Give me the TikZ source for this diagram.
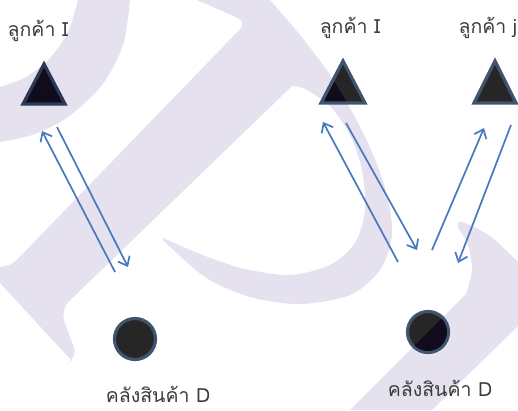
\documentclass[tikz,border=0pt]{standalone}
\usepackage{fontspec}
\newfontfamily\thaifont[Script=Thai]{Loma}
\usetikzlibrary{arrows.meta}
\definecolor{wm}{RGB}{230,225,239}
\definecolor{arrowblue}{RGB}{72,120,190}
\definecolor{shapeedge}{RGB}{64,84,112}
\definecolor{shapeedgedark}{RGB}{44,58,88}
\definecolor{shapefill}{RGB}{38,38,38}
\definecolor{deepfill}{RGB}{17,12,28}
\definecolor{labelgray}{RGB}{60,60,60}
\begin{document}
\begin{tikzpicture}[x=1pt,y=-1pt,
  lbl/.style={font=\thaifont\fontsize{19.5}{23}\selectfont, text=labelgray, inner sep=0pt, anchor=base},
  custedge/.style={draw=shapeedge, line width=3.2pt, line join=miter},
  depot/.style={circle, draw=shapeedge, fill=shapefill, line width=3.2pt, minimum size=41pt, inner sep=0pt},
  flow/.style={draw=arrowblue, line width=1.7pt, -{Straight Barb[length=8pt,width=13pt]}},
  wmfill/.style={fill=wm, draw=none}
]
\useasboundingbox (0,0) rectangle (518,410);
\fill[white] (0,0) rectangle (518,410);

% ---------- watermark ----------
\path[save path=\wmA] (78,0) -- (130,0)
  -- plot[smooth] coordinates {(130,0) (123,45) (102,85) (68,117) (32,135) (0,142)}
  -- (0,87)
  -- plot[smooth] coordinates {(0,87) (26,77) (50,58) (68,32) (78,0)} -- cycle;
\path[save path=\wmB] (197,0) -- (270,0)
  -- plot[smooth] coordinates {(270,0) (300,35) (328,72) (350,108) (372,152) (387,195) (392,235) (380,270) (350,295) (300,304) (250,297) (205,277) (163,240)}
  -- plot[smooth] coordinates {(163,238) (205,256) (245,269) (290,275) (330,265) (355,243) (365,210) (362,170) (350,135) (330,106) (305,89) (292,86)}
  [rounded corners=12pt] -- (60,310) -- (78,358) [sharp corners] -- (72,361) -- (0,283) -- (0,267)
  [rounded corners=10pt] -- (10,267) -- (247,22) [sharp corners] -- (197,0) -- cycle;
\path[save path=\wmE] (350,410) -- (466,294)
  -- plot[smooth] coordinates {(466,294) (472,270) (468,245) (458,227) (462,222) (490,236) (518,262)}
  -- (518,326) -- (432,410) -- cycle;
\fill[wmfill][use path=\wmA];
\fill[wmfill][use path=\wmB];
\fill[wmfill][use path=\wmE];

% ---------- customers ----------
\path[save path=\triA] (44,64) -- (65,104) -- (23,104) -- cycle;
\path[save path=\triB] (343,61) -- (365,103) -- (321,103) -- cycle;
\path[save path=\triC] (495,61) -- (516,103) -- (474,103) -- cycle;
\fill[deepfill][use path=\triA];
\draw[custedge, draw=shapeedgedark][use path=\triA];
\fill[shapefill][use path=\triB];
\begin{scope}
  \clip[use path=\wmB];
  \fill[deepfill][use path=\triB];
\end{scope}
\draw[custedge][use path=\triB];
\fill[shapefill][use path=\triC];
\draw[custedge][use path=\triC];
\coordinate (cust1) at (44,90);
\coordinate (cust2) at (343,88);
\coordinate (cust3) at (495,88);

% ---------- depots ----------
\node[depot] (dep1) at (135,339) {};
\node[depot] (dep2) at (428,332) {};
\begin{scope}
  \clip[use path=\wmE];
  \fill[deepfill] (dep2) circle (19pt);
\end{scope}

% ---------- labels ----------
\node[lbl] (lab1) at (38,36) {ลูกค้า I};
\node[lbl] (lab2) at (350,33) {ลูกค้า I};
\node[lbl] (lab3) at (488,33) {ลูกค้า j};
\node[lbl, text depth=0pt] (lab4) at (158,402) {คลังสินค้า D};
\node[lbl] (lab5) at (440,396) {คลังสินค้า D};

% ---------- flows ----------
\coordinate (a1s) at (115,272); \coordinate (a1e) at (42,131);
\coordinate (a2s) at (57,127);  \coordinate (a2e) at (128,267);
\coordinate (a3s) at (398,262); \coordinate (a3e) at (323,122);
\coordinate (a4s) at (346,123); \coordinate (a4e) at (417,250);
\coordinate (a5s) at (432,250); \coordinate (a5e) at (484,128);
\coordinate (a6s) at (511,125); \coordinate (a6e) at (458,263);
\draw[flow] (a1s) -- (a1e);
\draw[flow] (a2s) -- (a2e);
\draw[flow] (a3s) -- (a3e);
\draw[flow] (a4s) -- (a4e);
\draw[flow] (a5s) -- (a5e);
\draw[flow] (a6s) -- (a6e);
\end{tikzpicture}
\end{document}
